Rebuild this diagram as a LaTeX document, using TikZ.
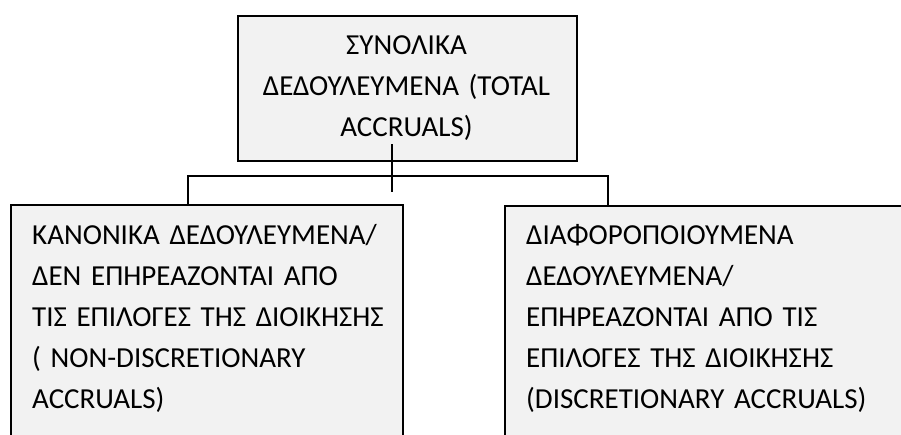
\documentclass[tikz,border=0pt]{standalone}
\usepackage{fontspec}
\setmainfont{Carlito}
\definecolor{boxfill}{HTML}{F2F2F2}
\tikzset{
  box/.style={draw=black, fill=boxfill, line width=1.6pt, rectangle, inner sep=0pt, anchor=north west},
  link/.style={draw=black, line width=1.6pt},
  txt/.style={inner sep=0pt, font=\fontsize{29}{41}\selectfont, text width=#1},
}
\begin{document}
\begin{tikzpicture}[x=1pt,y=-1pt]
\useasboundingbox (0,0) rectangle (901,434);
\begin{scope}
\clip (0,0) rectangle (901,434);
\node[box, minimum width=339pt, minimum height=145pt] (top) at (237,15) {};
\node[box, minimum width=392pt, minimum height=300pt] (lb) at (10,204) {};
\node[box, minimum width=460pt, minimum height=300pt] (rb) at (504,205) {};
\end{scope}
\node[txt=339pt, align=center, anchor=base] (ttop) at (406.5,54)
  {ΣΥΝΟΛΙΚΑ\\ΔΕΔΟΥΛΕΥΜΕΝΑ (TOTAL\\ACCRUALS)};
\node[txt=380pt, align=left, anchor=base west] (tlb) at (32,244)
  {ΚΑΝΟΝΙΚΑ ΔΕΔΟΥΛΕΥΜΕΝΑ/\\ΔΕΝ ΕΠΗΡΕΑΖΟΝΤΑΙ ΑΠΟ\\ΤΙΣ ΕΠΙΛΟΓΕΣ ΤΗΣ ΔΙΟΙΚΗΣΗΣ\\( NON-DISCRETIONARY\\ACCRUALS)};
\node[txt=370pt, align=left, anchor=base west] (trb) at (526,244)
  {ΔΙΑΦΟΡΟΠΟΙΟΥΜΕΝΑ\\ΔΕΔΟΥΛΕΥΜΕΝΑ/\\ΕΠΗΡΕΑΖΟΝΤΑΙ ΑΠΟ ΤΙΣ\\ΕΠΙΛΟΓΕΣ ΤΗΣ ΔΙΟΙΚΗΣΗΣ\\(DISCRETIONARY ACCRUALS)};
\coordinate (stemtop) at (392,144);
\coordinate (stembot) at (392,192);
\coordinate (jl) at (188,176);
\coordinate (jr) at (608,176);
\draw[link] (stemtop) -- (stembot);
\draw[link] (lb.north west -| jl) -- (jl) -- (jr) -- (rb.north west -| jr);
\end{tikzpicture}
\end{document}
